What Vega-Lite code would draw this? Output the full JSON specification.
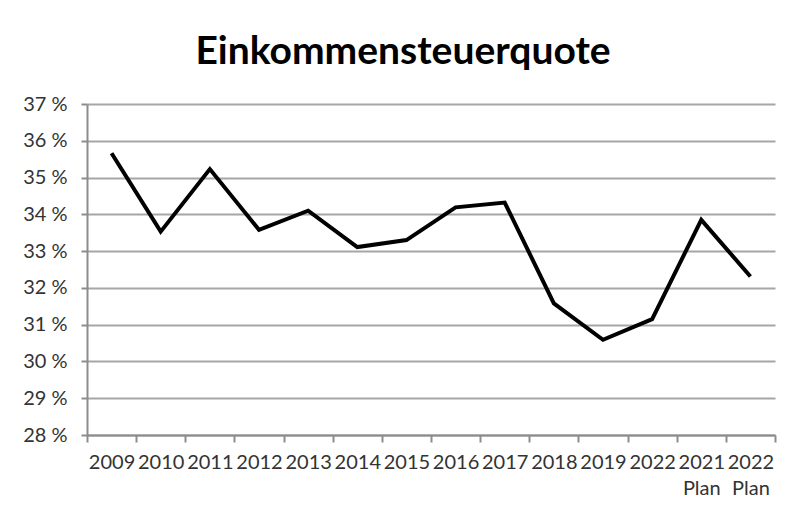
{
  "$schema": "https://vega.github.io/schema/vega-lite/v6.json",
  "width": 688,
  "height": 331,
  "autosize": "none",
  "padding": {"left": 87, "top": 104, "right": 14, "bottom": 81},
  "background": "white",
  "title": {
    "text": "Einkommensteuerquote",
    "font": "Lato",
    "fontSize": 39,
    "fontWeight": "bold",
    "color": "#000000",
    "anchor": "middle",
    "dx": -28,
    "offset": 22
  },
  "data": {
    "values": [
      {"jahr": "2009", "quote": 35.66},
      {"jahr": "2010", "quote": 33.53},
      {"jahr": "2011", "quote": 35.23},
      {"jahr": "2012", "quote": 33.58},
      {"jahr": "2013", "quote": 34.10},
      {"jahr": "2014", "quote": 33.11},
      {"jahr": "2015", "quote": 33.30},
      {"jahr": "2016", "quote": 34.19},
      {"jahr": "2017", "quote": 34.32},
      {"jahr": "2018", "quote": 31.58},
      {"jahr": "2019", "quote": 30.59},
      {"jahr": "2022", "quote": 31.15},
      {"jahr": "2021 Plan", "quote": 33.85},
      {"jahr": "2022 Plan", "quote": 32.31}
    ]
  },
  "mark": {"type": "line", "color": "#000000", "strokeWidth": 4, "strokeJoin": "miter"},
  "encoding": {
    "x": {
      "field": "jahr",
      "type": "nominal",
      "sort": null,
      "scale": {"type": "band", "paddingInner": 0, "paddingOuter": 0},
      "axis": {
        "title": null,
        "labelAngle": 0,
        "labelExpr": "split(datum.label, ' ')",
        "labelFont": "Lato",
        "labelFontSize": 20,
        "labelColor": "#333333",
        "labelLineHeight": 26,
        "labelPadding": 10,
        "labelBaseline": "top",
        "domainColor": "#8c8c8c",
        "domainWidth": 2,
        "tickColor": "#8c8c8c",
        "tickWidth": 2,
        "tickSize": 7,
        "tickBand": "extent",
        "grid": false
      }
    },
    "y": {
      "field": "quote",
      "type": "quantitative",
      "scale": {"domain": [28, 37], "nice": false, "zero": false},
      "axis": {
        "title": null,
        "values": [28, 29, 30, 31, 32, 33, 34, 35, 36, 37],
        "labelExpr": "datum.value + ' %'",
        "labelFont": "Lato",
        "labelFontSize": 20,
        "labelColor": "#333333",
        "labelPadding": 14,
        "domainColor": "#8c8c8c",
        "domainWidth": 2,
        "tickColor": "#8c8c8c",
        "tickWidth": 2,
        "tickSize": 6,
        "grid": true,
        "gridColor": "#a6a6a6",
        "gridWidth": 2
      }
    }
  },
  "config": {"view": {"stroke": null}}
}
